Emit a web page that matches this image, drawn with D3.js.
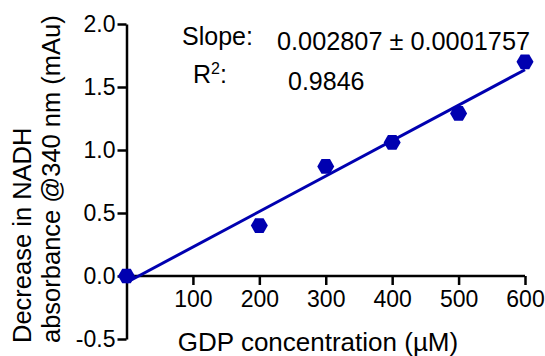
<!DOCTYPE html>
<html>
<head>
<meta charset="utf-8">
<script src="https://cdn.jsdelivr.net/npm/d3@7"></script>
<style>
    body { margin: 0; background: #fff; }
    svg { display: block; font-family: "Liberation Sans", Arial, sans-serif; }
</style>
</head>
<body>
<div id="chart"></div>
<script>
// GDP concentration (uM) and decrease in NADH absorbance (mAu)
const concentrations = [0, 200, 300, 400, 500, 600];
const absorbance = [0, 0.40, 0.87, 1.06, 1.29, 1.70];
const xTicks = [100, 200, 300, 400, 500, 600];
const yTicks = [-0.5, 0.0, 0.5, 1.0, 1.5, 2.0];
const slopeText = '0.002807 \u00b1 0.0001757';
const r2Text = '0.9846';

const width = 545, height = 356;
const blue = '#0000b0';

const svg = d3.select('#chart').append('svg')
    .attr('width', width)
    .attr('height', height);

const x = d3.scaleLinear().domain([0, 600]).range([126.5, 525]);
const y = d3.scaleLinear().domain([-0.5, 2]).range([339, 24]);

// Y axis
const yAxis = svg.append('g')
    .attr('transform', `translate(${x(0)},0)`)
    .call(d3.axisLeft(y).tickValues(yTicks).tickFormat(d3.format('.1f')).tickSize(9).tickPadding(2).tickSizeOuter(0));

// X axis at y = 0
const xAxis = svg.append('g')
    .attr('transform', `translate(0,${y(0)})`)
    .call(d3.axisBottom(x).tickValues(xTicks).tickSize(9).tickPadding(6).tickSizeOuter(0));

[yAxis, xAxis].forEach(g => {
    g.select('.domain').attr('stroke', '#000').attr('stroke-width', 2.5);
    g.selectAll('.tick line').attr('stroke', '#000').attr('stroke-width', 2.5);
    g.selectAll('.tick text').attr('fill', '#000').attr('font-size', 23)
        .attr('font-family', '"Liberation Sans", Arial, sans-serif');
});
yAxis.selectAll('.tick text').text(d => d < 0 ? '-' + Math.abs(d).toFixed(1) : d.toFixed(1));
xAxis.select('.domain').attr('d', `M${x(0)},0H${x(600)}`);

// Linear fit (least squares)
const mx = d3.mean(concentrations), my = d3.mean(absorbance);
const sxy = d3.sum(concentrations, (c, i) => (c - mx) * (absorbance[i] - my));
const sxx = d3.sum(concentrations, c => (c - mx) * (c - mx));
const slope = sxy / sxx;
const intercept = my - slope * mx;
const fitX = d3.extent(concentrations);

svg.append('path')
    .datum(fitX)
    .attr('fill', 'none')
    .attr('stroke', blue)
    .attr('stroke-width', 3)
    .attr('d', d3.line().x(d => x(d)).y(d => y(intercept + slope * d)));

// Hexagon markers
const hexagon = r => d3.range(6).map(k => {
    const a = k * Math.PI / 3;
    return [r * Math.cos(a), r * Math.sin(a)];
});
svg.append('g')
    .selectAll('path')
    .data(concentrations)
    .enter().append('path')
    .attr('transform', (d, i) => `translate(${x(d)},${y(absorbance[i])})`)
    .attr('d', 'M' + hexagon(8.5).join('L') + 'Z')
    .attr('fill', blue);

// Axis titles
svg.append('text')
    .attr('x', 318)
    .attr('y', 351)
    .attr('text-anchor', 'middle')
    .attr('font-size', 26)
    .text('GDP concentration (\u00b5M)');

const yTitle = svg.append('text')
    .attr('transform', 'translate(0,343) rotate(-90)')
    .attr('font-size', 25.5);
yTitle.append('tspan').attr('x', 0).attr('y', 31).text('Decrease in NADH');
yTitle.append('tspan').attr('x', 0).attr('y', 60).text('absorbance @340 nm (mAu)');

// Fit annotation
svg.append('text').attr('x', 182).attr('y', 45).attr('font-size', 25).text('Slope:');
svg.append('text').attr('x', 277).attr('y', 50).attr('font-size', 25.3).text(slopeText);
const r2 = svg.append('text').attr('x', 193).attr('y', 83).attr('font-size', 25);
r2.append('tspan').text('R');
r2.append('tspan').attr('font-size', 16).attr('dy', -9).text('2');
r2.append('tspan').attr('dy', 9).text(':');
svg.append('text').attr('x', 288).attr('y', 90).attr('font-size', 25).text(r2Text);
</script>
</body>
</html>
